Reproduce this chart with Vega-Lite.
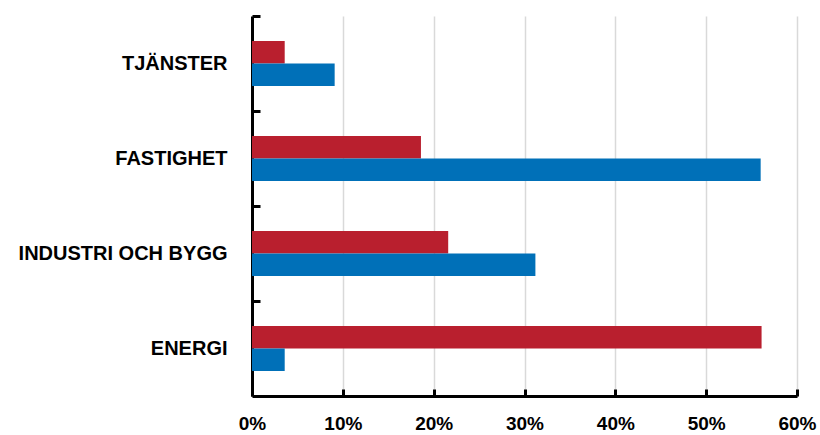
{
  "$schema": "https://vega.github.io/schema/vega-lite/v6.json",
  "autosize": "none",
  "width": 545,
  "height": 380,
  "padding": {"left": 252, "top": 16, "right": 23, "bottom": 39},
  "background": "white",
  "config": {"view": {"stroke": null}},
  "data": {
    "values": [
      {"kategori": "TJÄNSTER", "serie": "Serie 1", "andel": 0.036},
      {"kategori": "TJÄNSTER", "serie": "Serie 2", "andel": 0.091},
      {"kategori": "FASTIGHET", "serie": "Serie 1", "andel": 0.186},
      {"kategori": "FASTIGHET", "serie": "Serie 2", "andel": 0.560},
      {"kategori": "INDUSTRI OCH BYGG", "serie": "Serie 1", "andel": 0.216},
      {"kategori": "INDUSTRI OCH BYGG", "serie": "Serie 2", "andel": 0.312},
      {"kategori": "ENERGI", "serie": "Serie 1", "andel": 0.561},
      {"kategori": "ENERGI", "serie": "Serie 2", "andel": 0.036}
    ]
  },
  "mark": {"type": "bar"},
  "encoding": {
    "y": {
      "field": "kategori",
      "type": "nominal",
      "sort": ["TJÄNSTER", "FASTIGHET", "INDUSTRI OCH BYGG", "ENERGI"],
      "scale": {"paddingInner": 0.526, "paddingOuter": 0.263},
      "axis": {
        "title": null,
        "tickOffset": -47.5,
        "labelOffset": 47.5,
        "domainColor": "black",
        "domainWidth": 3,
        "tickColor": "black",
        "tickWidth": 3,
        "tickSize": -8,
        "labelPadding": 33,
        "labelFont": "Liberation Sans",
        "labelFontWeight": "bold",
        "labelFontSize": 20,
        "labelColor": "black",
        "labelLimit": 300,
        "grid": false
      }
    },
    "yOffset": {
      "field": "serie",
      "type": "nominal",
      "sort": ["Serie 1", "Serie 2"],
      "scale": {"paddingInner": 0, "paddingOuter": 0}
    },
    "x": {
      "field": "andel",
      "type": "quantitative",
      "scale": {"domain": [0, 0.6], "nice": false},
      "axis": {
        "title": null,
        "values": [0, 0.1, 0.2, 0.3, 0.4, 0.5, 0.6],
        "format": ".0%",
        "grid": true,
        "gridColor": "#d9d9d9",
        "gridWidth": 1.5,
        "domainColor": "black",
        "domainWidth": 3,
        "tickColor": "black",
        "tickWidth": 3,
        "tickSize": -7,
        "labelPadding": 25,
        "labelFont": "Liberation Sans",
        "labelFontWeight": "bold",
        "labelFontSize": 19,
        "labelColor": "black",
        "labelFlush": false
      }
    },
    "color": {
      "field": "serie",
      "type": "nominal",
      "scale": {"domain": ["Serie 1", "Serie 2"], "range": ["#B91F2E", "#0070B8"]},
      "legend": null
    }
  }
}
